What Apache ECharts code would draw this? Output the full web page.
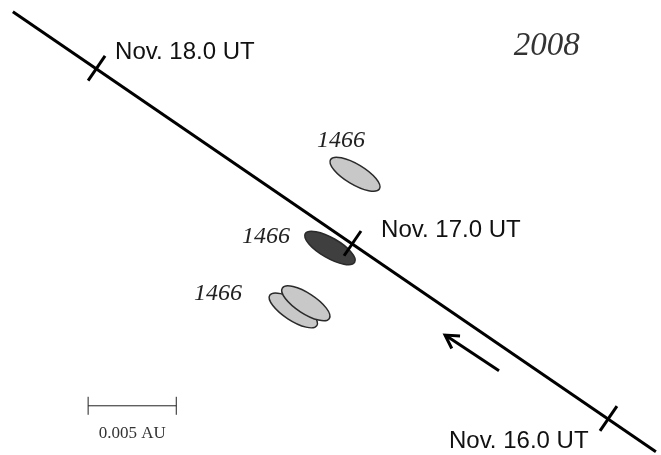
<!DOCTYPE html>
<html>
<head>
<meta charset="utf-8">
<script src="https://cdn.jsdelivr.net/npm/echarts@6/dist/echarts.min.js"></script>
<style>
html, body { margin: 0; padding: 0; background: #ffffff; }
#chart { width: 661px; height: 455px; }
</style>
</head>
<body>
<div id="chart"></div>
<script>
// All positions in units of 0.001 AU, origin at Earth's position at Nov. 17.0 UT.

// Earth's path
const trackStart = [-19.27, 13.14];
const trackEnd = [17.21, -11.82];

// Epoch marks along the path
const epochNames = ['Nov. 18.0 UT', 'Nov. 17.0 UT', 'Nov. 16.0 UT'];
const epochX = [-14.52, 0, 14.52];
const epochY = [9.93, 0, -9.93];
const epochLabelX = [-13.47, 1.62, 5.47];
const epochLabelY = [10.83, 0.76, -11.25];

// 1466 dust trail sections (centre, semi-axes, orientation in degrees)
const trailX = [0.14, -1.28, -3.36, -2.65];
const trailY = [3.92, -0.26, -3.80, -3.40];
const trailMajor = [1.62, 1.62, 1.59, 1.59];
const trailMinor = [0.57, 0.57, 0.57, 0.57];
const trailAngle = [-31, -30, -33, -33];
const trailDense = [false, true, false, false];

// Trail year labels
const trailLabels = ['1466', '1466', '1466'];
const trailLabelX = [-0.65, -4.91, -7.63];
const trailLabelY = [5.81, 0.36, -2.87];

// Year of the encounter
const yearText = '2008';
const yearPos = [11.02, 11.17];

// Direction of Earth's motion
const motionTail = [8.31, -7.22];
const motionTip = [5.25, -5.20];

// Scale bar
const scaleFrom = [-15, -9.21];
const scaleTo = [-10, -9.21];
const scaleText = '0.005 AU';
const scaleTextPos = [-12.5, -10.78];

const chart = echarts.init(document.getElementById('chart'), null, { renderer: 'canvas' });

function unit(a, b) {
  const dx = b[0] - a[0], dy = b[1] - a[1];
  const len = Math.sqrt(dx * dx + dy * dy);
  return [dx / len, dy / len];
}

const option = {
  animation: false,
  backgroundColor: '#ffffff',
  grid: { left: 0, right: 0, top: 0, bottom: 0, containLabel: false },
  xAxis: { type: 'value', min: -20, max: 17.5, show: false },
  yAxis: { type: 'value', min: -12, max: 13.8, show: false },
  series: [
    {
      // trail sections
      type: 'custom',
      silent: true,
      data: trailX.map((x, i) => [x, trailY[i]]),
      renderItem: function (params, api) {
        const i = params.dataIndex;
        const c = api.coord([api.value(0), api.value(1)]);
        const sz = api.size([trailMajor[i], trailMinor[i]]);
        return {
          type: 'ellipse',
          x: c[0],
          y: c[1],
          rotation: trailAngle[i] * Math.PI / 180,
          shape: { cx: 0, cy: 0, rx: sz[0], ry: sz[1] },
          style: {
            fill: trailDense[i] ? '#3f3f3f' : '#c8c8c8',
            stroke: '#2a2a2a',
            lineWidth: 1.5
          }
        };
      }
    },
    {
      // Earth's path
      type: 'line',
      silent: true,
      symbol: 'none',
      data: [trackStart, trackEnd],
      lineStyle: { color: '#000000', width: 3 },
      z: 3
    },
    {
      // epoch ticks across the path
      type: 'custom',
      silent: true,
      z: 4,
      data: epochX.map((x, i) => [x, epochY[i]]),
      renderItem: function (params, api) {
        const p = api.coord([api.value(0), api.value(1)]);
        const a = api.coord(trackStart), b = api.coord(trackEnd);
        const d = unit(a, b);
        const n = [d[1], -d[0]];
        const h = 15;
        return {
          type: 'line',
          shape: { x1: p[0] - n[0] * h, y1: p[1] - n[1] * h, x2: p[0] + n[0] * h, y2: p[1] + n[1] * h },
          style: { stroke: '#000000', lineWidth: 3 }
        };
      }
    },
    {
      // epoch labels
      type: 'custom',
      silent: true,
      z: 5,
      data: epochLabelX.map((x, i) => [x, epochLabelY[i]]),
      renderItem: function (params, api) {
        const p = api.coord([api.value(0), api.value(1)]);
        return {
          type: 'text',
          x: p[0], y: p[1],
          style: {
            text: epochNames[params.dataIndex],
            fontFamily: 'Liberation Sans',
            fontSize: 24,
            fill: '#111111',
            align: 'left',
            verticalAlign: 'middle'
          }
        };
      }
    },
    {
      // trail labels
      type: 'custom',
      silent: true,
      z: 5,
      data: trailLabelX.map((x, i) => [x, trailLabelY[i]]),
      renderItem: function (params, api) {
        const p = api.coord([api.value(0), api.value(1)]);
        return {
          type: 'text',
          x: p[0], y: p[1],
          style: {
            text: trailLabels[params.dataIndex],
            fontFamily: 'Liberation Serif',
            fontStyle: 'italic',
            fontSize: 24,
            fill: '#222222',
            align: 'center',
            verticalAlign: 'middle'
          }
        };
      }
    },
    {
      // year
      type: 'custom',
      silent: true,
      z: 5,
      data: [yearPos],
      renderItem: function (params, api) {
        const p = api.coord([api.value(0), api.value(1)]);
        return {
          type: 'text',
          x: p[0], y: p[1],
          style: {
            text: yearText,
            fontFamily: 'Liberation Serif',
            fontStyle: 'italic',
            fontSize: 33,
            fill: '#333333',
            align: 'center',
            verticalAlign: 'middle'
          }
        };
      }
    },
    {
      // motion arrow
      type: 'custom',
      silent: true,
      z: 5,
      data: [motionTail, motionTip],
      renderItem: function (params, api) {
        if (params.dataIndex !== 0) return null;
        const t = api.coord(motionTail), h = api.coord(motionTip);
        const d = unit(h, t);
        const L = 15, ang = 30 * Math.PI / 180;
        const c = Math.cos(ang), s = Math.sin(ang);
        const r1 = [h[0] + L * (d[0] * c - d[1] * s), h[1] + L * (d[0] * s + d[1] * c)];
        const r2 = [h[0] + L * (d[0] * c + d[1] * s), h[1] + L * (-d[0] * s + d[1] * c)];
        return {
          type: 'group',
          children: [
            { type: 'line', shape: { x1: t[0], y1: t[1], x2: h[0], y2: h[1] }, style: { stroke: '#000', lineWidth: 3 } },
            { type: 'polyline', shape: { points: [r1, h, r2] }, style: { stroke: '#000', lineWidth: 3, fill: null, lineJoin: 'miter' } }
          ]
        };
      }
    },
    {
      // scale bar
      type: 'custom',
      silent: true,
      z: 5,
      data: [scaleFrom, scaleTo],
      renderItem: function (params, api) {
        if (params.dataIndex !== 0) return null;
        const a = api.coord(scaleFrom), b = api.coord(scaleTo);
        const lp = api.coord(scaleTextPos);
        const hh = 9;
        return {
          type: 'group',
          children: [
            { type: 'line', shape: { x1: a[0], y1: a[1], x2: b[0], y2: b[1] }, style: { stroke: '#222', lineWidth: 1 } },
            { type: 'line', shape: { x1: a[0], y1: a[1] - hh, x2: a[0], y2: a[1] + hh }, style: { stroke: '#222', lineWidth: 1 } },
            { type: 'line', shape: { x1: b[0], y1: b[1] - hh, x2: b[0], y2: b[1] + hh }, style: { stroke: '#222', lineWidth: 1 } },
            {
              type: 'text', x: lp[0], y: lp[1],
              style: { text: scaleText, fontFamily: 'Liberation Serif', fontSize: 17, fill: '#333', align: 'center', verticalAlign: 'middle' }
            }
          ]
        };
      }
    }
  ]
};

chart.setOption(option);
</script>
</body>
</html>
